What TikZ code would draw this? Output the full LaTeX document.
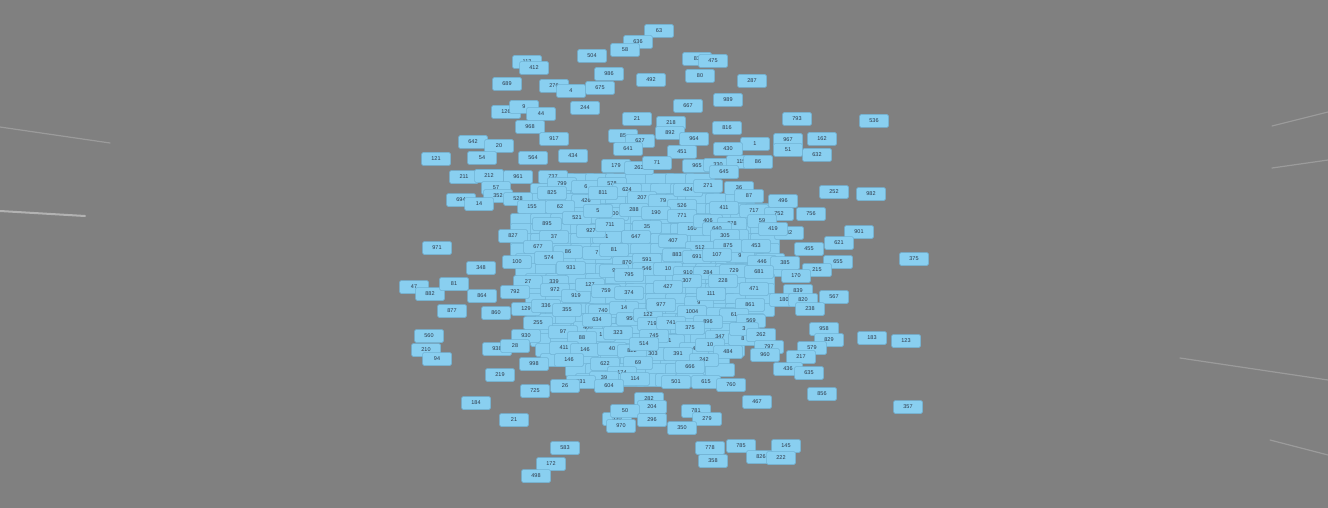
\documentclass[tikz,border=0pt]{standalone}
\usepackage{fontspec}
\setmainfont{Liberation Sans}
\definecolor{bgc}{RGB}{128,128,128}
\definecolor{nfill}{RGB}{137,207,240}
\definecolor{nedge}{RGB}{112,178,212}
\definecolor{ntext}{RGB}{45,55,70}
\tikzset{
  gn/.style={draw=nedge, fill=nfill, line width=0.5pt, rounded corners=1.5pt,
    minimum width=29pt, minimum height=13pt, inner sep=0pt, text=ntext,
    font=\fontsize{5.5}{6}\selectfont},
  streak/.style={draw=white, line width=1.2pt, opacity=0.22, line cap=round}
}
\newcommand\gnode[4]{\node[gn] (#1) at (#2,#3) {#4};}
\begin{document}
\begin{tikzpicture}[x=1pt,y=-1pt]
\fill[bgc] (0,0) rectangle (1328,508);
\useasboundingbox (0,0) rectangle (1328,508);
% faint streaks at the edges
\coordinate (sa1) at (0,127); \coordinate (sa2) at (110,143);
\coordinate (sb1) at (0,211); \coordinate (sb2) at (85,216);
\coordinate (sc1) at (1328,112); \coordinate (sc2) at (1272,126);
\coordinate (sd1) at (1328,160); \coordinate (sd2) at (1272,168);
\coordinate (se1) at (1328,380); \coordinate (se2) at (1180,358);
\coordinate (sf1) at (1328,455); \coordinate (sf2) at (1270,440);
\draw[streak] (sa1) -- (sa2);
\draw[streak, opacity=0.4, line width=2pt] (sb1) -- (sb2);
\draw[streak] (sc1) -- (sc2);
\draw[streak] (sd1) -- (sd2);
\draw[streak] (se1) -- (se2);
\draw[streak] (sf1) -- (sf2);
% packed nodes filling the dense core (their labels are covered)
\foreach \yy/\xa/\xb in {180/560/700, 190/545/720, 200/540/740, 210/540/760,
  220/525/760, 230/525/770, 240/525/780, 250/525/780, 260/530/780,
  270/530/780, 280/540/770, 290/540/770, 300/540/760, 310/540/760,
  320/550/750, 330/545/750, 340/545/740, 350/550/740, 360/555/720,
  370/580/720, 380/590/700} {
  \pgfmathtruncatemacro{\xc}{\xa+20}
  \foreach \xx in {\xa,\xc,...,\xb} {
    \node[gn] (core-\xx-\yy) at (\xx,\yy) {};
  }
}
% top
\gnode{a1}{659}{31}{63}
\gnode{a2}{638}{42}{636}
\gnode{a3}{625}{50}{58}
\gnode{a4}{592}{56}{504}
\gnode{a5}{527}{62}{113}
\gnode{a6}{534}{68}{412}
\gnode{a7}{697}{59}{83}
\gnode{a8}{713}{61}{475}
\gnode{a9}{609}{74}{986}
\gnode{a10}{651}{80}{492}
\gnode{a11}{700}{76}{80}
\gnode{a12}{752}{81}{287}
\gnode{a13}{507}{84}{689}
\gnode{a14}{554}{86}{276}
\gnode{a15}{571}{91}{4}
\gnode{a16}{600}{88}{675}
\gnode{a17}{728}{100}{989}
\gnode{a18}{688}{106}{667}
\gnode{a19}{506}{112}{126}
\gnode{a20}{524}{107}{9}
\gnode{a21}{541}{114}{44}
\gnode{a22}{585}{108}{244}
\gnode{a23}{637}{119}{21}
\gnode{a24}{671}{123}{218}
\gnode{a25}{797}{119}{793}
\gnode{a26}{874}{121}{536}
\gnode{a27}{727}{128}{816}
\gnode{a28}{530}{127}{968}
\gnode{a29}{554}{139}{917}
\gnode{a30}{623}{136}{85}
\gnode{a31}{670}{133}{892}
\gnode{a32}{640}{141}{627}
\gnode{a33}{694}{139}{964}
\gnode{a34}{788}{140}{967}
\gnode{a35}{822}{139}{162}
\gnode{a36}{755}{144}{1}
\gnode{a37}{473}{142}{642}
\gnode{a38}{499}{146}{20}
\gnode{a39}{628}{149}{641}
\gnode{a40}{728}{149}{430}
\gnode{a41}{682}{152}{451}
\gnode{a42}{788}{150}{51}
\gnode{a43}{817}{155}{632}
\gnode{a44}{436}{159}{121}
\gnode{a45}{482}{158}{54}
\gnode{a46}{533}{158}{564}
\gnode{a47}{573}{156}{434}
% hidden fillers in the centre
\gnode{h1}{553}{177}{737}
\gnode{h2}{614}{214}{600}
\gnode{h3}{597}{253}{7}
\gnode{h4}{740}{256}{9}
\gnode{h5}{699}{303}{9}
\gnode{h6}{721}{314}{3}
\gnode{h7}{720}{337}{347}
\gnode{h8}{743}{339}{8}
\gnode{h9}{670}{341}{1}
\gnode{h10}{588}{328}{400}
\gnode{h11}{789}{233}{82}
\gnode{h12}{617}{419}{530}
\gnode{h13}{554}{282}{339}
\gnode{h14}{607}{237}{1}
\gnode{h15}{601}{335}{1}
% upper band
\gnode{b1}{616}{166}{179}
\gnode{b2}{639}{168}{263}
\gnode{b3}{657}{163}{71}
\gnode{b4}{697}{166}{965}
\gnode{b5}{718}{165}{330}
\gnode{b6}{741}{162}{115}
\gnode{b7}{758}{162}{86}
\gnode{b8}{464}{177}{211}
\gnode{b9}{489}{176}{212}
\gnode{b10}{518}{177}{961}
\gnode{b11}{562}{184}{799}
\gnode{b12}{496}{188}{57}
\gnode{b13}{498}{196}{352}
\gnode{b14}{518}{199}{528}
\gnode{b15}{552}{193}{825}
\gnode{b16}{586}{187}{6}
\gnode{b17}{586}{201}{426}
\gnode{b18}{461}{200}{694}
\gnode{b19}{479}{204}{14}
\gnode{b20}{532}{207}{155}
\gnode{b21}{560}{207}{62}
\gnode{b22}{577}{218}{521}
\gnode{b23}{547}{224}{895}
\gnode{b24}{591}{231}{927}
\gnode{b25}{513}{236}{827}
\gnode{b26}{554}{237}{37}
\gnode{c1}{612}{184}{578}
\gnode{c2}{627}{190}{624}
\gnode{c3}{603}{193}{811}
\gnode{c4}{642}{198}{207}
\gnode{c5}{663}{201}{79}
\gnode{c6}{688}{190}{424}
\gnode{c7}{682}{206}{526}
\gnode{c8}{634}{210}{288}
\gnode{c9}{656}{213}{190}
\gnode{c10}{682}{216}{771}
\gnode{c11}{598}{211}{5}
\gnode{c12}{610}{225}{711}
\gnode{c13}{647}{227}{35}
\gnode{c14}{692}{229}{160}
\gnode{c15}{636}{237}{647}
\gnode{d1}{724}{172}{645}
\gnode{d2}{708}{186}{271}
\gnode{d3}{739}{188}{36}
\gnode{d4}{749}{196}{87}
\gnode{d5}{783}{201}{496}
\gnode{d6}{724}{208}{411}
\gnode{d7}{754}{211}{717}
\gnode{d8}{779}{214}{752}
\gnode{d9}{708}{221}{406}
\gnode{d10}{732}{224}{378}
\gnode{d11}{762}{221}{59}
\gnode{d12}{773}{229}{419}
\gnode{d13}{717}{229}{640}
\gnode{d14}{734}{236}{605}
% right
\gnode{r1}{811}{214}{756}
\gnode{r2}{834}{192}{252}
\gnode{r3}{871}{194}{982}
\gnode{r4}{859}{232}{901}
\gnode{r5}{839}{243}{621}
\gnode{r6}{809}{249}{455}
\gnode{r7}{914}{259}{375}
\gnode{r8}{838}{262}{655}
\gnode{r9}{817}{270}{215}
\gnode{r10}{796}{276}{170}
\gnode{r11}{798}{291}{839}
\gnode{r12}{834}{297}{567}
\gnode{r13}{784}{300}{180}
\gnode{r14}{803}{300}{820}
\gnode{r15}{810}{309}{238}
\gnode{r16}{824}{329}{958}
\gnode{r17}{829}{340}{829}
\gnode{r18}{872}{338}{183}
\gnode{r19}{906}{341}{123}
\gnode{r20}{812}{348}{579}
\gnode{r21}{801}{357}{217}
\gnode{r22}{788}{369}{436}
\gnode{r23}{809}{373}{635}
\gnode{r24}{822}{394}{856}
\gnode{r25}{908}{407}{357}
\gnode{r26}{757}{402}{467}
% centre
\gnode{e1}{538}{247}{677}
\gnode{e2}{568}{252}{86}
\gnode{e3}{614}{250}{81}
\gnode{e4}{517}{262}{100}
\gnode{e5}{549}{258}{574}
\gnode{e6}{571}{268}{931}
\gnode{e7}{627}{263}{870}
\gnode{e8}{647}{260}{591}
\gnode{e9}{614}{271}{9}
\gnode{e10}{647}{269}{546}
\gnode{e11}{629}{275}{795}
\gnode{e12}{528}{282}{27}
\gnode{e13}{515}{292}{792}
\gnode{e14}{555}{290}{972}
\gnode{e15}{576}{296}{919}
\gnode{e16}{590}{285}{127}
\gnode{e17}{606}{291}{759}
\gnode{e18}{629}{293}{374}
\gnode{e19}{526}{309}{129}
\gnode{e20}{546}{306}{336}
\gnode{e21}{567}{310}{355}
\gnode{e22}{603}{311}{740}
\gnode{e23}{624}{308}{14}
\gnode{e24}{538}{323}{255}
\gnode{e25}{597}{320}{634}
\gnode{e26}{631}{319}{950}
\gnode{e27}{648}{315}{122}
\gnode{f1}{673}{241}{407}
\gnode{f2}{725}{236}{305}
\gnode{f3}{700}{248}{512}
\gnode{f4}{728}{246}{875}
\gnode{f5}{756}{246}{453}
\gnode{f6}{677}{255}{883}
\gnode{f7}{697}{257}{691}
\gnode{f8}{717}{255}{107}
\gnode{f9}{762}{262}{446}
\gnode{f10}{785}{263}{385}
\gnode{f11}{668}{269}{10}
\gnode{f12}{688}{273}{910}
\gnode{f13}{708}{273}{284}
\gnode{f14}{734}{271}{729}
\gnode{f15}{759}{272}{681}
\gnode{f16}{687}{281}{307}
\gnode{f17}{723}{281}{228}
\gnode{f18}{668}{287}{427}
\gnode{f19}{754}{289}{471}
\gnode{f20}{711}{294}{111}
\gnode{f21}{661}{305}{977}
\gnode{f22}{750}{305}{861}
\gnode{f23}{692}{312}{1004}
\gnode{f24}{734}{315}{61}
\gnode{f25}{652}{324}{719}
\gnode{f26}{671}{323}{741}
\gnode{f27}{708}{322}{896}
\gnode{f28}{751}{321}{569}
\gnode{f29}{690}{328}{375}
\gnode{f30}{744}{329}{3}
\gnode{f31}{761}{335}{262}
\gnode{f32}{654}{336}{745}
\gnode{f33}{694}{349}{4}
\gnode{f34}{710}{345}{10}
\gnode{f35}{728}{352}{484}
\gnode{f36}{769}{347}{797}
\gnode{f37}{765}{355}{960}
\gnode{f38}{653}{354}{303}
\gnode{f39}{678}{354}{391}
\gnode{f40}{704}{360}{242}
\gnode{f41}{690}{367}{666}
\gnode{f42}{676}{382}{501}
\gnode{f43}{706}{382}{615}
\gnode{f44}{731}{385}{760}
% left and bottom
\gnode{g1}{414}{287}{47}
\gnode{g2}{430}{294}{882}
\gnode{g3}{454}{284}{81}
\gnode{g4}{482}{296}{864}
\gnode{g5}{452}{311}{877}
\gnode{g6}{496}{313}{860}
\gnode{g7}{481}{268}{348}
\gnode{g8}{437}{248}{971}
\gnode{g9}{429}{336}{560}
\gnode{g10}{426}{350}{210}
\gnode{g11}{437}{359}{94}
\gnode{g12}{497}{349}{938}
\gnode{g13}{500}{375}{219}
\gnode{g14}{526}{336}{930}
\gnode{g15}{563}{332}{97}
\gnode{g16}{582}{338}{88}
\gnode{g17}{618}{333}{323}
\gnode{g18}{515}{346}{28}
\gnode{g19}{564}{348}{411}
\gnode{g20}{585}{350}{146}
\gnode{g21}{612}{349}{40}
\gnode{g22}{632}{351}{822}
\gnode{g23}{644}{344}{514}
\gnode{g24}{534}{364}{998}
\gnode{g25}{569}{360}{146}
\gnode{g26}{605}{364}{622}
\gnode{g27}{638}{363}{69}
\gnode{g28}{622}{373}{174}
\gnode{g29}{604}{378}{39}
\gnode{g30}{581}{382}{331}
\gnode{g31}{565}{386}{26}
\gnode{g32}{635}{379}{114}
\gnode{g33}{609}{386}{604}
\gnode{g34}{535}{391}{725}
\gnode{g35}{476}{403}{184}
\gnode{g36}{514}{420}{21}
\gnode{g37}{649}{399}{282}
\gnode{g38}{652}{407}{204}
\gnode{g39}{625}{411}{50}
\gnode{g40}{621}{426}{970}
\gnode{g41}{652}{420}{296}
\gnode{g42}{696}{411}{781}
\gnode{g43}{707}{419}{279}
\gnode{g44}{682}{428}{350}
\gnode{g45}{565}{448}{583}
\gnode{g46}{551}{464}{172}
\gnode{g47}{536}{476}{498}
\gnode{g48}{710}{448}{778}
\gnode{g49}{713}{461}{358}
\gnode{g50}{741}{446}{785}
\gnode{g51}{761}{457}{826}
\gnode{g52}{786}{446}{145}
\gnode{g53}{781}{458}{222}
\end{tikzpicture}
\end{document}
